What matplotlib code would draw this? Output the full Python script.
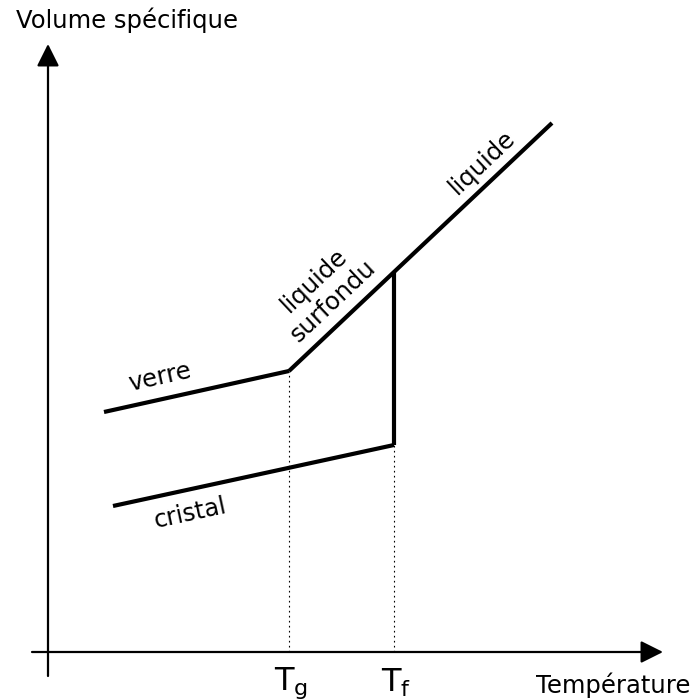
import numpy as np
import matplotlib.pyplot as plt

# diagram data (temperature, specific volume), origin at the axes crossing
verre_T = [56, 241]
verre_V = [240, 281]
liquide_T = [241, 346, 504]
liquide_V = [281, 380, 529]
fusion_T = [346, 346]
fusion_V = [380, 207]
cristal_T = [65, 346]
cristal_V = [146, 207]
T_g = 241
T_f = 346

fig = plt.figure(figsize=(6.96, 7.0), dpi=100)
ax = fig.add_axes([0, 0, 1, 1])
ax.set_xlim(-48, 648)
ax.set_ylim(-48, 652)
ax.axis('off')

lw = 3.0
ax.plot(verre_T, verre_V, color='black', lw=lw, solid_capstyle='butt')
ax.plot(liquide_T, liquide_V, color='black', lw=lw, solid_capstyle='butt')
ax.plot(fusion_T, fusion_V, color='black', lw=lw, solid_capstyle='butt')
ax.plot(cristal_T, cristal_V, color='black', lw=lw, solid_capstyle='butt')

# dotted guides
ax.plot([T_g, T_g], [0, verre_V[1]], color='black', lw=0.8, ls=(0, (1.5, 3)))
ax.plot([T_f, T_f], [0, cristal_V[1]], color='black', lw=0.8, ls=(0, (1.5, 3)))

# axes with arrows
arrow = dict(arrowstyle='-|>,head_length=0.4,head_width=0.2', lw=1.6,
             color='black', mutation_scale=34, shrinkA=0, shrinkB=0)
ax.annotate('', xy=(615, 0), xytext=(-16, 0), arrowprops=arrow)
ax.annotate('', xy=(0, 608), xytext=(0, -24), arrowprops=arrow)

fs = 17.5
ax.text(79, 632, 'Volume spécifique', fontsize=fs, ha='center', va='center')
ax.text(565, -33, 'Température', fontsize=fs, ha='center', va='center')
ax.text(T_g + 2, -31, r'$\mathregular{T_g}$', fontsize=23, ha='center', va='center')
ax.text(T_f + 2, -31, r'$\mathregular{T_f}$', fontsize=23, ha='center', va='center')

ax.text(112, 275, 'verre', fontsize=fs, ha='center', va='center', rotation=12.5)
ax.text(142, 139, 'cristal', fontsize=fs, ha='center', va='center', rotation=12.2)
ax.text(276, 361, 'liquide\nsurfondu', fontsize=fs, ha='center', va='center',
        rotation=43.3, linespacing=1.2)
ax.text(434, 490, 'liquide', fontsize=fs, ha='center', va='center', rotation=43.3)

fig.savefig('out.png', dpi=100)
